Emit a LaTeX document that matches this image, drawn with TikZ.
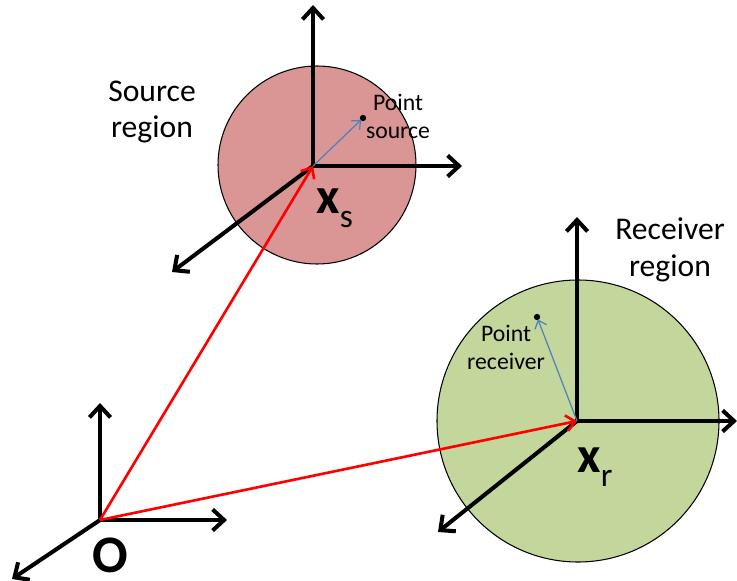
\documentclass[tikz,border=0pt]{standalone}
\usepackage{fontspec}
\setmainfont{Carlito}
\usepackage{tikz}
\usepackage{xcolor}
\usetikzlibrary{arrows.meta, calc, positioning}

\definecolor{srcfill}{RGB}{217,150,148}
\definecolor{rcvfill}{RGB}{195,214,155}
\definecolor{ptblue}{RGB}{79,129,189}

\tikzset{
  axis/.style={line width=2.3pt, -{Straight Barb[length=6.5pt, width=12pt]}},
  posvec/.style={red, line width=1.5pt, -{Straight Barb[length=5pt, width=9pt]}},
  ptvec/.style={ptblue, line width=0.7pt, shorten >=1.5pt, -{Straight Barb[length=4pt, width=7pt]}},
  region/.style={draw=black, line width=0.6pt},
  reglbl/.style={font=\fontsize{18}{21}\selectfont, align=center},
  ptlbl/.style={font=\fontsize{13.5}{16}\selectfont, align=center},
  veclbl/.style={font=\fontsize{29}{29}\selectfont\bfseries, anchor=base west, inner sep=0pt},
}
\newcommand{\subl}[1]{\raisebox{-8pt}{\fontsize{19}{19}\selectfont\mdseries #1}}

\begin{document}
\begin{tikzpicture}[x=0.02cm, y=-0.02cm]
  \useasboundingbox (0,0) rectangle (737,581);

  % Frame origins and axis tips
  \coordinate (O) at (100,520);
  \coordinate (Ox) at (227,520);
  \coordinate (Oy) at (100,403);
  \coordinate (Oz) at (12,579);

  \coordinate (xs) at (313,166);
  \coordinate (xsX) at (462,166);
  \coordinate (xsY) at (313,5);
  \coordinate (xsZ) at (172,272);

  \coordinate (xr) at (577,421);
  \coordinate (xrX) at (737,421);
  \coordinate (xrY) at (577,217);
  \coordinate (xrZ) at (438,532);

  % Regions
  \fill[srcfill, region] (317,165) circle (99);
  \fill[rcvfill, region] (578,421) circle (141);

  % Axes
  \draw[axis] (O) -- (Ox);
  \draw[axis] (O) -- (Oy);
  \draw[axis] (O) -- (Oz);
  \draw[axis] (xs) -- (xsX);
  \draw[axis] (xs) -- (xsY);
  \draw[axis] (xs) -- (xsZ);
  \draw[axis] (xr) -- (xrX);
  \draw[axis] (xr) -- (xrY);
  \draw[axis] (xr) -- (xrZ);

  % Position vectors
  \draw[posvec] (O) -- (xs);
  \draw[posvec] (O) -- (xr);

  % Points inside the regions
  \fill (363,118) circle (1.8pt) coordinate (ps);
  \fill (537,317) circle (1.8pt) coordinate (pr);
  \draw[ptvec] (xs) -- (ps);
  \draw[ptvec] (xr) -- (pr);

  % Labels
  \node[reglbl] (srclbl) at (152,112) {Source\\region};
  \node[reglbl] (rcvlbl) at (670,250) {Receiver\\region};
  \node[ptlbl] (pslbl) at (398,116) {Point\\source};
  \node[ptlbl] (prlbl) at (506,347) {Point\\receiver};
  \node[veclbl] (xslbl) at (316,213) {x\subl{s}};
  \node[veclbl] (xrlbl) at (577,472) {x\subl{r}};
  \node[veclbl, anchor=base, font=\fontsize{30}{30}\selectfont\bfseries] (Olbl) at (110,572) {O};
\end{tikzpicture}
\end{document}
